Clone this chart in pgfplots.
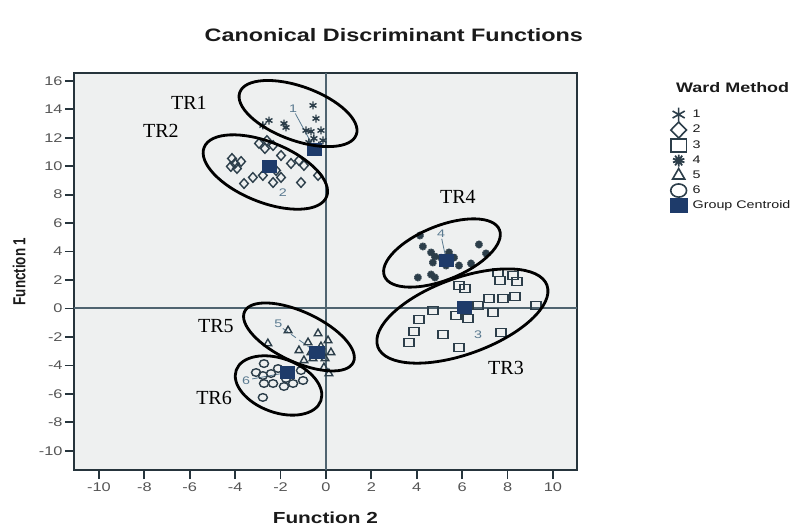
\documentclass[border=0pt]{standalone}
\usepackage{graphicx}
\usepackage{fontspec}
\setmainfont{Liberation Sans}
\newfontfamily\arialS[FakeStretch=1.3]{Liberation Sans}
\newfontfamily\timesf{Liberation Serif}
\usepackage{pgfplots}
\pgfplotsset{compat=1.18}
\definecolor{bgplot}{HTML}{EEF0F0}
\definecolor{framec}{HTML}{26343C}
\definecolor{zeroc}{HTML}{4F6470}
\definecolor{markc}{HTML}{2C3E4A}
\definecolor{centc}{HTML}{1E3B6A}
\definecolor{tickc}{HTML}{555555}
\definecolor{labc}{HTML}{5A7A90}
\definecolor{darkc}{HTML}{1A1A1A}

\pgfplotstableread{
x y
-2.51 13.21
-2.78 12.86
-1.85 13.0
-1.76 12.72
-0.57 14.27
-0.44 13.35
-0.88 12.51
-0.66 12.44
-0.22 12.51
-0.53 11.95
-0.13 11.81
-0.31 11.45
-0.75 11.67
}\gone
\pgfplotstableread{
x y
-4.14 10.54
-4.01 10.19
-3.92 9.84
-4.19 9.98
-3.74 10.33
-2.95 11.6
-2.69 11.24
-2.33 11.45
-2.6 11.8
-1.98 10.75
-1.54 10.19
-1.19 10.4
-0.97 10.05
-3.61 8.78
-3.22 9.21
-2.78 9.35
-2.33 8.85
-1.98 9.21
-1.1 8.85
-0.35 9.35
-2.2 9.7
}\gtwo
\pgfplotstableread{
x y
7.58 2.53
8.24 2.32
7.67 1.97
8.41 1.9
5.86 1.62
6.12 1.41
7.18 0.70
7.8 0.70
8.33 0.84
9.25 0.21
6.7 0.21
4.71 -0.14
5.73 -0.49
6.26 -0.70
7.36 -0.28
4.1 -0.77
3.88 -1.62
5.15 -1.83
3.66 -2.39
5.86 -2.74
7.71 -1.69
}\gthree
\pgfplotstableread{
x y
4.14 5.13
4.27 4.36
4.63 3.94
4.8 3.65
4.71 3.23
5.42 3.94
5.64 3.58
5.86 3.02
6.39 3.16
6.74 4.5
7.05 3.87
4.05 2.18
4.63 2.39
4.8 2.18
5.29 3.02
5.07 3.58
}\gfour
\pgfplotstableread{
x y
-1.67 -1.55
-2.56 -2.46
-0.35 -1.76
0.09 -2.25
-0.79 -2.39
-0.97 -3.65
0.13 -4.57
-0.09 -4.15
-0.22 -2.67
0.22 -3.09
-0.66 -3.09
-0.57 -3.51
-0.04 -3.51
-1.19 -2.95
}\gfive
\pgfplotstableread{
x y
-2.73 -3.87
-2.78 -4.71
-2.73 -5.27
-2.33 -5.27
-1.85 -5.48
-1.45 -5.27
-1.01 -5.06
-1.1 -4.36
-2.11 -4.22
-2.42 -4.57
-2.78 -6.25
-3.08 -4.5
-1.76 -4.92
}\gsix
\pgfplotstableread{
x y
-0.5 11.2
-2.5 10.0
6.1 0.1
5.3 3.4
-0.4 -3.1
-1.7 -4.5
}\gcent

\begin{document}
\begin{tikzpicture}
\begin{axis}[
  x=11.35pt, y=7.115pt,
  xmin=-11.1, xmax=11.05, ymin=-11.35, ymax=16.56,
  clip mode=individual,
  axis background/.style={fill=bgplot},
  axis line style={draw=framec, line width=1.2pt},
  xtick={-10,-8,...,10}, ytick={-10,-8,...,16},
  tick align=outside, xtick pos=left, ytick pos=left,
  major tick length=4.5pt,
  tick style={draw=framec, line width=0.9pt},
  /pgf/number format/assume math mode=true,
  ticklabel style={font=\arialS\fontsize{6.3}{7}\selectfont, text=tickc},
  xticklabel style={inner sep=1.5pt},
  yticklabel style={inner sep=1pt},
  xlabel={Function 2},
  xlabel style={font=\arialS\bfseries\fontsize{8}{9}\selectfont, text=darkc,
    at={(axis description cs:0.5,-0.121)}, anchor=center},
  ylabel={\scalebox{1}[1.3]{\bfseries\fontsize{6.7}{8}\selectfont Function 1}},
  ylabel style={text=darkc, at={(axis description cs:-0.109,0.5)}, anchor=center},
  legend image code/.code={\path[draw=none,fill=none] (0pt,-3pt) rectangle (11pt,3pt); \draw[#1] plot coordinates {(5.5pt,0pt)};},
  legend style={at={(axis description cs:1.168,0.925)}, anchor=north west,
    draw=none, fill=none, font=\arialS\fontsize{5.5}{6.5}\selectfont, text=darkc,
    nodes={inner sep=0pt, text height=5pt, text depth=2.5pt}, column sep=1.5pt},
  legend cell align=left,
]
\coordinate (SW) at (rel axis cs:0,0);
% legend images
\addlegendimage{only marks, mark=asterisk, mark size=3.5pt, draw=markc, line width=0.8pt}
\addlegendimage{only marks, mark=diamond, mark size=4pt, draw=markc, line width=0.8pt, mark options={xscale=1.3}}
\addlegendimage{only marks, mark=square, mark size=3.3pt, draw=markc, line width=0.8pt, mark options={xscale=1.2}}
\addlegendimage{only marks, mark=10-pointed star, mark size=3pt, draw=markc, fill=white, line width=0.9pt}
\addlegendimage{only marks, mark=triangle, mark size=3.5pt, draw=markc, line width=0.8pt}
\addlegendimage{only marks, mark=o, mark size=3.3pt, draw=markc, line width=0.8pt, mark options={xscale=1.2}}
\addlegendimage{only marks, mark=square*, mark size=3.5pt, draw=centc, fill=centc, mark options={xscale=1.2}}
\legend{1,2,3,4,5,6,Group Centroid}
% zero lines
\addplot[forget plot, draw=zeroc, line width=1pt] coordinates {(0,-11.35) (0,16.56)};
\addplot[forget plot, draw=zeroc, line width=1pt] coordinates {(-11.1,0) (11.05,0)};
% label lines
\addplot[forget plot, draw=labc, line width=0.4pt] coordinates {(-1.35,13.7) (-0.5,11.2)};
\addplot[forget plot, draw=labc, line width=0.4pt] coordinates {(5.1,4.9) (5.3,3.4)};
\addplot[forget plot, draw=labc, line width=0.4pt, densely dashed] coordinates {(-1.9,-1.4) (-0.4,-3.1)};
\addplot[forget plot, draw=labc, line width=0.4pt] coordinates {(-3.25,-4.95) (-1.7,-4.5)};
% data
\addplot[forget plot, only marks, mark=asterisk, mark size=2pt, draw=markc, line width=0.7pt] table {\gone};
\addplot[forget plot, only marks, mark=diamond, mark size=2.4pt, draw=markc, line width=0.7pt, mark options={xscale=1.2}] table {\gtwo};
\addplot[forget plot, only marks, mark=square, mark size=2pt, draw=markc, line width=0.7pt, mark options={xscale=1.25}] table {\gthree};
\addplot[forget plot, only marks, mark=10-pointed star, mark size=1.9pt, draw=markc, fill=white, line width=0.8pt] table {\gfour};
\addplot[forget plot, only marks, mark=triangle, mark size=2.2pt, draw=markc, line width=0.7pt] table {\gfive};
\addplot[forget plot, only marks, mark=o, mark size=1.9pt, draw=markc, line width=0.7pt, mark options={xscale=1.2}] table {\gsix};
\addplot[forget plot, only marks, mark=square*, mark size=3pt, draw=centc, fill=centc, mark options={xscale=1.2}] table {\gcent};
% group numbers
\node[font=\arialS\fontsize{5.5}{6}\selectfont, text=labc] at (axis cs:-1.45,14.05) {1};
\node[font=\arialS\fontsize{5.5}{6}\selectfont, text=labc] at (axis cs:-1.9,8.15) {2};
\node[font=\arialS\fontsize{5.5}{6}\selectfont, text=labc] at (axis cs:6.7,-1.83) {3};
\node[font=\arialS\fontsize{5.5}{6}\selectfont, text=labc] at (axis cs:5.07,5.27) {4};
\node[font=\arialS\fontsize{5.5}{6}\selectfont, text=labc] at (axis cs:-2.1,-1.05) {5};
\node[font=\arialS\fontsize{5.5}{6}\selectfont, text=labc] at (axis cs:-3.52,-5.06) {6};
% ellipses
\draw[black, line width=1.4pt, rotate around={-20:(axis cs:-1.23,13.7)}] (axis cs:-1.23,13.7) ellipse [x radius=31pt, y radius=13.5pt];
\draw[black, line width=1.4pt, rotate around={-22:(axis cs:-2.67,9.59)}] (axis cs:-2.67,9.59) ellipse [x radius=33pt, y radius=15pt];
\draw[black, line width=1.4pt, rotate around={22:(axis cs:5.11,3.9)}] (axis cs:5.11,3.9) ellipse [x radius=31pt, y radius=13.5pt];
\draw[black, line width=1.4pt, rotate around={20:(axis cs:6.01,-0.53)}] (axis cs:6.01,-0.53) ellipse [x radius=45pt, y radius=19pt];
\draw[black, line width=1.4pt, rotate around={-25:(axis cs:-1.19,-2.0)}] (axis cs:-1.19,-2.0) ellipse [x radius=30pt, y radius=12.5pt];
\draw[black, line width=1.4pt, rotate around={-20:(axis cs:-2.09,-5.41)}] (axis cs:-2.09,-5.41) ellipse [x radius=22.5pt, y radius=13.5pt];
% TR labels
\node[font=\timesf\fontsize{10}{12}\selectfont] at (axis cs:-6.04,14.48) {TR1};
\node[font=\timesf\fontsize{10}{12}\selectfont] at (axis cs:-7.27,12.51) {TR2};
\node[font=\timesf\fontsize{10}{12}\selectfont] at (axis cs:5.81,7.87) {TR4};
\node[font=\timesf\fontsize{10}{12}\selectfont] at (axis cs:7.93,-4.15) {TR3};
\node[font=\timesf\fontsize{10}{12}\selectfont] at (axis cs:-4.85,-1.26) {TR5};
\node[font=\timesf\fontsize{10}{12}\selectfont] at (axis cs:-4.93,-6.32) {TR6};
% title and legend title
\node[font=\arialS\bfseries\fontsize{9}{10}\selectfont, text=darkc] at (axis description cs:0.636,1.095) {Canonical Discriminant Functions};
\node[font=\arialS\bfseries\fontsize{6.9}{8}\selectfont, text=darkc] at (axis description cs:1.310,0.962) {Ward Method};
\end{axis}
\pgfresetboundingbox
\path[use as bounding box] (SW) ++(-37pt,-28.5pt) rectangle ++(399pt,263.5pt);
\end{tikzpicture}
\end{document}
